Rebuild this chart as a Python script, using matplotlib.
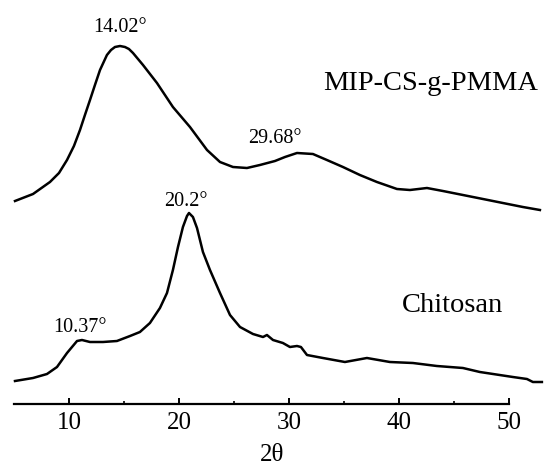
import matplotlib
matplotlib.use("Agg")
import matplotlib.pyplot as plt

plt.rcParams['font.family'] = ['Liberation Serif', 'DejaVu Serif']

# MIP-CS-g-PMMA pattern (2theta, intensity a.u.)
pmma_x = [5.09, 6.73, 8.27, 9.09, 9.82, 10.45, 11.0, 11.45, 11.91, 12.36, 12.82, 13.45,
          13.82, 14.18, 14.64, 15.09, 15.45, 15.82, 16.73, 18.0, 19.45, 21.0, 22.55,
          23.73, 24.91, 26.18, 27.36, 28.73, 29.64, 30.73, 32.18, 33.45, 34.91, 36.45,
          38.0, 39.82, 41.0, 42.55, 44.0, 45.82, 47.64, 49.45, 51.27, 52.82]
pmma_y = [203, 210, 222, 231, 244, 258, 274, 289, 304, 319, 334, 349,
          354, 357, 358, 357, 355, 351, 339, 321, 297, 277, 254,
          242, 237, 236, 239, 243, 247, 251, 250, 244, 237, 229,
          222, 215, 214, 216, 213, 209, 205, 201, 197, 194]

# Chitosan pattern
chit_x = [5.09, 6.73, 8.0, 8.91, 9.82, 10.73, 11.18, 11.91, 13.09, 14.36, 15.55, 16.45,
          17.36, 18.27, 18.91, 19.45, 19.91, 20.36, 20.73, 20.91, 21.27, 21.64, 22.18,
          22.82, 23.73, 24.64, 25.55, 26.73, 27.64, 28.0, 28.55, 29.45, 30.09, 30.73,
          31.09, 31.64, 33.09, 35.09, 37.09, 39.18, 41.27, 43.45, 45.82, 47.36, 50.36,
          51.64, 52.18, 53.0]
chit_y = [23, 26, 30, 37, 51, 63, 64, 62, 62, 63, 68, 72,
          81, 96, 111, 134, 157, 177, 188, 191, 187, 176, 152,
          134, 111, 89, 77, 70, 67, 69, 64, 61, 57, 58,
          57, 49, 46, 42, 46, 42, 41, 38, 36, 32, 27,
          25, 22, 22]

peak_labels = ["14.02°", "29.68°", "20.2°", "10.37°"]
peak_pos = [(14.6, 372), (28.7, 261), (20.6, 198), (11.0, 72)]
series_labels = ["MIP-CS-g-PMMA", "Chitosan"]

fig = plt.figure(figsize=(5.56, 4.66), dpi=100)
ax = fig.add_axes([14/556, 62/466, 529/556, 404/466])

ax.plot(pmma_x, pmma_y, color='black', linewidth=1.8, clip_on=False)
ax.plot(chit_x, chit_y, color='black', linewidth=1.8, clip_on=False)

for lab, (px, py) in zip(peak_labels, peak_pos):
    ax.text(px, py, lab, ha='center', va='baseline', fontsize=14.5)

ax.text(33.1, 314, series_labels[0], ha='left', va='baseline', fontsize=20.5)
ax.text(40.3, 92, series_labels[1], ha='left', va='baseline', fontsize=20.5)

ax.set_xlim(5, 53.1)
ax.set_ylim(0, 404)
for s in ['top', 'right', 'left']:
    ax.spines[s].set_visible(False)
ax.spines['bottom'].set_bounds(5, 50)
ax.spines['bottom'].set_linewidth(1.6)
ax.set_yticks([])
ax.set_xticks([10, 20, 30, 40, 50])
ax.set_xticks([15, 25, 35, 45], minor=True)
ax.tick_params(axis='x', which='major', direction='in', length=4, width=1.4,
               labelsize=18, pad=6)
ax.tick_params(axis='x', which='minor', direction='in', length=2.5, width=1.2)
ax.set_xlabel('2θ', fontsize=18)
ax.xaxis.set_label_coords(0.4875, -0.098)
ax.patch.set_alpha(0)

fig.savefig('out.png', dpi=100)
